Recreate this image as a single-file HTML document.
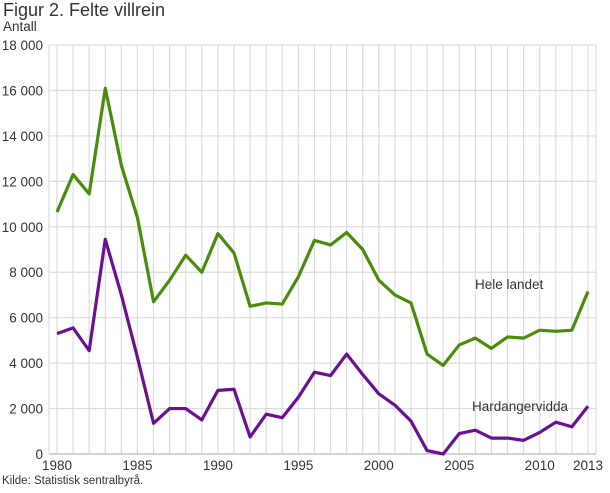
<!DOCTYPE html>
<html><head><meta charset="utf-8"><style>
body{margin:0;background:#fff;}
svg text{font-family:"Liberation Sans",sans-serif;fill:#333;}
</style></head><body>
<svg id="s" width="610" height="488" xmlns="http://www.w3.org/2000/svg">
<text x="3" y="16" font-size="18">Figur 2. Felte villrein</text>
<text x="3" y="31" font-size="13.5">Antall</text>
<g id="grid"></g>
<g id="lab" font-size="13.5"></g>
<text x="475" y="289" font-size="13.5">Hele landet</text>
<text x="472" y="411" font-size="13.5">Hardangervidda</text>
<text x="2" y="484" font-size="11.5">Kilde: Statistisk sentralbyrå.</text>
</svg>
<script>
var s=document.getElementById('s'),g=document.getElementById('grid'),lab=document.getElementById('lab');
var NS='http://www.w3.org/2000/svg';
function el(t,a,p){var e=document.createElementNS(NS,t);for(var k in a)e.setAttribute(k,a[k]);(p||s).appendChild(e);return e;}
function X(y){return 57+(y-1980)*16.09;}
function Y(v){return 454-v*0.02272;}
for(var y=1980;y<=2013;y++)el('line',{x1:X(y),x2:X(y),y1:45,y2:454,stroke:'#dcdcdc','stroke-width':1.2},g);
el('line',{x1:49,x2:49,y1:45,y2:454,stroke:'#dcdcdc','stroke-width':1.2},g);
el('line',{x1:596,x2:596,y1:45,y2:454,stroke:'#dcdcdc','stroke-width':1.2},g);
for(var v=0;v<=18000;v+=2000){el('line',{x1:49,x2:596,y1:Y(v),y2:Y(v),stroke:v?'#dcdcdc':'#bbb','stroke-width':1.2},g);
var t=el('text',{x:43,y:Y(v)+5,'text-anchor':'end'},lab);t.textContent=v?(v/1000|0)+' 000':'0';}
[1980,1985,1990,1995,2000,2005,2010,2013].forEach(function(y){var t=el('text',{x:X(y),y:470,'text-anchor':'middle'},lab);t.textContent=y;});
var a=[10650,12300,11450,16100,12700,10400,6700,7650,8750,8000,9700,8850,6500,6650,6600,7800,9400,9200,9750,9000,7650,7000,6650,4400,3900,4800,5100,4650,5150,5100,5450,5400,5450,7150];
var b=[5300,5550,4550,9450,7000,4250,1350,2000,2000,1500,2800,2850,750,1750,1600,2500,3600,3450,4400,3500,2650,2150,1450,150,0,900,1050,700,700,600,950,1400,1200,2100];
function pl(d,c){el('polyline',{points:d.map(function(v,i){return X(1980+i)+','+Y(v)}).join(' '),fill:'none',stroke:c,'stroke-width':3.2,'stroke-linejoin':'round'});}
pl(a,'#4a8b0c');pl(b,'#6b0f93');
</script>
</body></html>
